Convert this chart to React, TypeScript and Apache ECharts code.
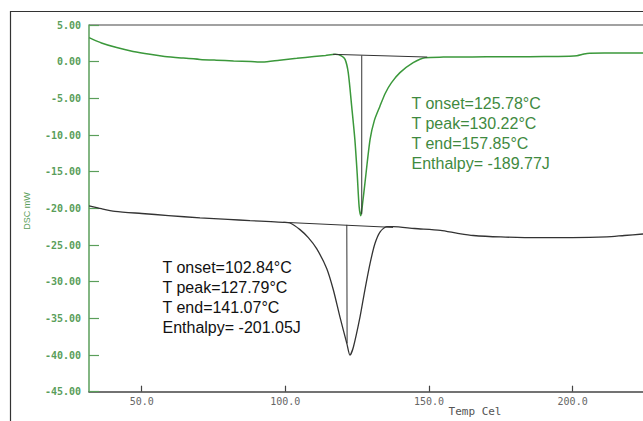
import React, { useEffect, useRef } from "react";
import * as echarts from "echarts";

// Sample 1 (green) DSC curve: temperature (°C) and heat flow (mW)
const greenTemps = [31.7, 36, 41.3, 47, 52.9, 58, 64.5, 70.3, 76, 82, 88, 92, 98, 104, 110, 114, 117.3, 119.5, 120.8, 121.9, 123.1, 124.2, 125.0, 125.7, 126.3, 126.9, 127.7, 129.5, 131, 132.9, 134.8, 136.9, 139.9, 144.5, 148.6, 155, 165, 175, 185, 195, 201.5, 203.5, 205, 212, 224.5];
const greenValues = [3.28, 2.55, 1.92, 1.4, 1.0, 0.72, 0.49, 0.31, 0.2, 0.1, 0.02, -0.05, 0.2, 0.45, 0.7, 0.85, 1.0, 0.8, 0.31, -1.5, -6.1, -10.6, -15.2, -19.8, -21.0, -19.3, -16.6, -10.6, -8.0, -6.1, -4.3, -2.9, -1.5, -0.14, 0.55, 0.62, 0.65, 0.66, 0.68, 0.72, 0.82, 1.0, 1.13, 1.17, 1.18];

// Sample 2 (black) DSC curve
const blackTemps = [31.7, 36, 40.7, 50, 59.3, 70.3, 80, 87.7, 95, 99.3, 101.6, 105.1, 108, 110.9, 114.4, 116.7, 119.0, 121.4, 122.5, 123.7, 126.0, 127.7, 129.5, 131.2, 133.0, 135.3, 137.5, 145, 154, 160, 165.4, 175, 188.6, 200, 211.9, 218, 224.5];
const blackValues = [-19.65, -20.05, -20.4, -20.7, -20.98, -21.3, -21.5, -21.67, -21.8, -21.9, -22.0, -22.9, -24.0, -25.5, -28.2, -31.1, -34.8, -38.4, -40.0, -38.9, -34.8, -31.1, -27.5, -24.8, -23.2, -22.5, -22.5, -22.75, -23.0, -23.4, -23.7, -23.9, -24.0, -24.0, -23.9, -23.7, -23.5];

// Integration baselines and peak drop lines
const greenBaselineTemps = [116.6, 149.4];
const greenBaselineValues = [1.0, 0.63];
const greenDropTemps = [126.6, 126.6];
const greenDropValues = [0.85, -20.8];
const blackBaselineTemps = [99.3, 137.5];
const blackBaselineValues = [-21.9, -22.6];
const blackDropTemps = [121.4, 121.5];
const blackDropValues = [-22.25, -38.4];

// Axis ticks
const xTickValues = [50, 100, 150, 200];
const xMin = 31.66;
const xMax = 224.5;
const yMin = -45;
const yMax = 5;
const yStep = 5;

// Annotations
const greenNotes = ["T onset=125.78°C", "T peak=130.22°C", "T end=157.85°C", "Enthalpy= -189.77J"];
const blackNotes = ["T onset=102.84°C", "T peak=127.79°C", "T end=141.07°C", "Enthalpy= -201.05J"];
const xTitle = "Temp Cel";
const yTitle = "DSC mW";

const zip = (a: number[], b: number[]) => a.map((v, i) => [v, b[i]]);

const GREEN = "#3b983b";
const GREEN_TEXT = "#3f8a3f";
const GREEN_AXIS = "#5a9e5a";
const DARK = "#333333";

export default function App() {
  const ref = useRef<HTMLDivElement>(null);

  useEffect(() => {
    if (!ref.current) return;
    const chart = echarts.init(ref.current, null, { renderer: "svg" });

    const noteText = (lines: string[], x: number, y0: number, color: string) =>
      lines.map((t, i) => ({
        type: "text",
        x,
        y: y0 + i * 20,
        silent: true,
        style: {
          text: t,
          fill: color,
          fontSize: 16,
          fontFamily: "Liberation Sans, Arial, sans-serif",
          textVerticalAlign: "middle",
        },
      }));

    const lineSeries = (data: number[][], color: string, width: number, smooth: number | boolean) => ({
      type: "line",
      data,
      showSymbol: false,
      symbol: "none",
      smooth,
      lineStyle: { color, width },
      silent: true,
    });

    chart.setOption({
      animation: false,
      grid: { left: 89, top: 25, right: 0, bottom: 29.3 },
      xAxis: {
        type: "value",
        min: xMin,
        max: xMax,
        axisLine: { show: true, onZero: false, lineStyle: { color: "#444", width: 1.5 } },
        axisTick: { show: true, inside: true, length: 6, customValues: xTickValues, lineStyle: { color: "#444", width: 1.2 } },
        axisLabel: {
          customValues: xTickValues,
          formatter: (v: number) => v.toFixed(1),
          color: "#666",
          fontFamily: "DejaVu Sans Mono, monospace",
          fontSize: 10,
          margin: 5,
        },
        splitLine: { show: false },
      },
      yAxis: {
        type: "value",
        min: yMin,
        max: yMax,
        interval: yStep,
        axisLine: { show: true, onZero: false, lineStyle: { color: GREEN_AXIS, width: 1.5 } },
        axisTick: { show: true, inside: true, length: 10, lineStyle: { color: GREEN_AXIS, width: 1.2 } },
        axisLabel: {
          formatter: (v: number) => v.toFixed(2),
          color: GREEN_AXIS,
          fontFamily: "DejaVu Sans Mono, monospace",
          fontSize: 10,
          fontWeight: "bold",
          margin: 8,
        },
        splitLine: { show: false },
      },
      series: [
        lineSeries(zip(greenTemps, greenValues), GREEN, 1.5, 0.25),
        lineSeries(zip(blackTemps, blackValues), DARK, 1.3, 0.25),
        lineSeries(zip(greenBaselineTemps, greenBaselineValues), DARK, 1, false),
        lineSeries(zip(greenDropTemps, greenDropValues), DARK, 1, false),
        lineSeries(zip(blackBaselineTemps, blackBaselineValues), DARK, 1, false),
        lineSeries(zip(blackDropTemps, blackDropValues), DARK, 1, false),
      ],
      graphic: [
        {
          type: "rect",
          silent: true,
          shape: { x: 10.5, y: 11.5, width: 900, height: 600 },
          style: { fill: "none", stroke: "#333", lineWidth: 1.2 },
        },
        {
          type: "line",
          silent: true,
          shape: { x1: 89, y1: 25, x2: 643, y2: 25 },
          style: { stroke: "#444", lineWidth: 1.2 },
        },
        {
          type: "text",
          x: 475,
          y: 411,
          silent: true,
          style: {
            text: xTitle,
            fill: "#555",
            fontSize: 11,
            fontFamily: "DejaVu Sans Mono, monospace",
            textAlign: "center",
            textVerticalAlign: "middle",
          },
        },
        {
          type: "text",
          x: 27,
          y: 211,
          rotation: Math.PI / 2,
          silent: true,
          style: {
            text: yTitle,
            fill: GREEN_AXIS,
            fontSize: 9,
            fontFamily: "Liberation Sans, Arial, sans-serif",
            textAlign: "center",
            textVerticalAlign: "middle",
          },
        },
        ...noteText(greenNotes, 411.5, 103.5, GREEN_TEXT),
        ...noteText(blackNotes, 162.5, 267, "#111"),
      ],
    });

    return () => chart.dispose();
  }, []);

  return <div ref={ref} style={{ position: "absolute", left: 0, top: 0, width: 643, height: 421 }} />;
}
